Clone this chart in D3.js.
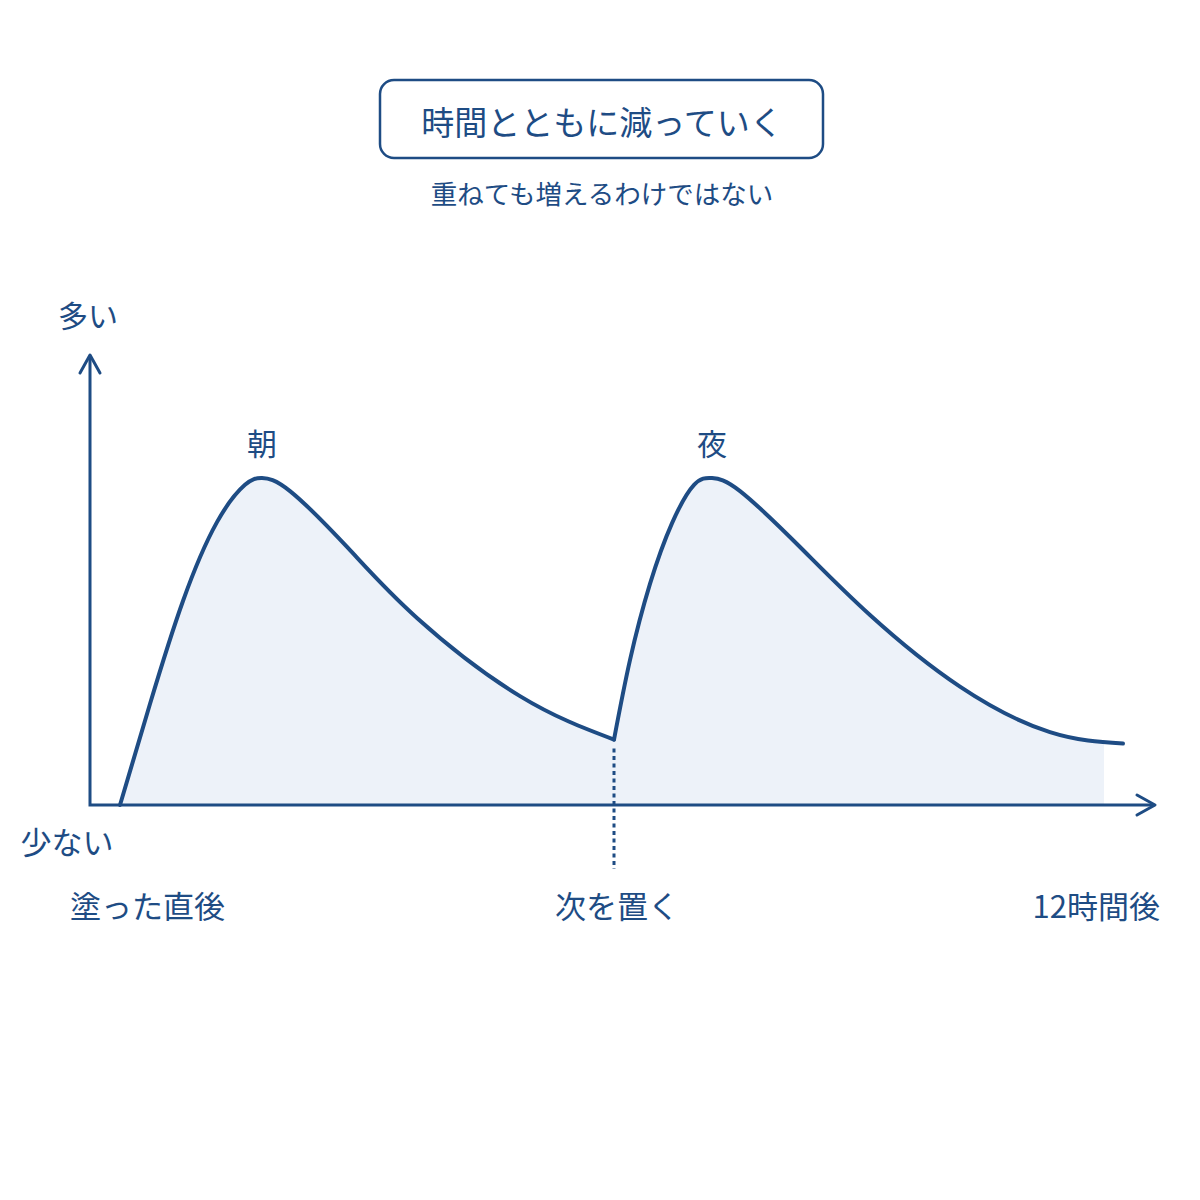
<!DOCTYPE html>
<html lang="ja">
<head>
<meta charset="utf-8">
<script src="https://cdn.jsdelivr.net/npm/d3@7"></script>
<style>
  body { margin: 0; background: #fff; }
  svg { display: block; font-family: "Noto Sans CJK JP", sans-serif; }
</style>
</head>
<body>
<svg></svg>
<script>
// Defining variables
const width = 1200
const height = 1200
const ink = '#1e4c84'
const fillColor = '#edf2f9'

// 朝に塗った分
const morningX = [0, 0.364, 0.765, 1.178, 1.518, 1.725, 2.065, 2.769, 3.607, 4.858, 6]
const morningY = [0, 30.9, 62.4, 86.5, 97.9, 100, 96.0, 78.6, 57.2, 33.3, 20]
// 夜に塗った分
const nightX = [6, 6.194, 6.437, 6.705, 6.972, 7.191, 7.531, 8.259, 9.109, 10.202, 11.295, 12.182]
const nightY = [20, 44.3, 67.6, 86.2, 97.9, 100, 96.0, 78.9, 58.1, 36.2, 22.3, 18.8]

const peakLabels = ['朝', '夜']
const peakX = [1.725, 7.191]
const xTicks = [0, 6, 12]
const xTickLabels = ['塗った直後', '次を置く', '12時間後']
const yLabels = ['多い', '少ない']
const title = '時間とともに減っていく'
const subtitle = '重ねても増えるわけではない'

// axis frame
const axisX = 90
const axisY = 805
const axisTop = 355
const axisRight = 1155

const svg = d3.select('svg')
                .attr('width', width)
                .attr('height', height)

const xScale = d3.scaleLinear()
                .domain([0, 12])
                .range([120, 1108])

const yScale = d3.scaleLinear()
                .domain([0, 100])
                .range([axisY, 478])

const segments = [
    d3.zip(morningX, morningY),
    d3.zip(nightX, nightY)
]

// Title box
svg.append('rect')
    .attr('x', 380)
    .attr('y', 80)
    .attr('width', 443)
    .attr('height', 78)
    .attr('rx', 14)
    .attr('fill', '#fff')
    .attr('stroke', ink)
    .attr('stroke-width', 2.5)

svg.append('text')
    .attr('x', 602)
    .attr('y', 121)
    .attr('text-anchor', 'middle')
    .attr('dominant-baseline', 'central')
    .attr('font-size', 33)
    .attr('fill', ink)
    .text(title)

svg.append('text')
    .attr('x', 602)
    .attr('y', 192)
    .attr('text-anchor', 'middle')
    .attr('dominant-baseline', 'central')
    .attr('font-size', 26.5)
    .attr('fill', ink)
    .text(subtitle)

// Area under the curve
svg.append('clipPath')
    .attr('id', 'clip')
    .append('rect')
    .attr('x', xScale(0))
    .attr('y', 0)
    .attr('width', xScale(12) - xScale(0) - 4)
    .attr('height', axisY)

let area = d3.area()
            .x(d => xScale(d[0]))
            .y0(yScale(0))
            .y1(d => yScale(d[1]))
            .curve(d3.curveNatural)

let line = d3.line()
            .x(d => xScale(d[0]))
            .y(d => yScale(d[1]))
            .curve(d3.curveNatural)

svg.append('g')
    .attr('clip-path', 'url(#clip)')
    .selectAll('path')
    .data(segments)
    .enter()
    .append('path')
    .attr('d', area)
    .attr('fill', fillColor)

// Dotted marker for the second coat
svg.append('line')
    .attr('x1', xScale(xTicks[1]))
    .attr('x2', xScale(xTicks[1]))
    .attr('y1', yScale(nightY[0]) + 9)
    .attr('y2', 869)
    .attr('stroke', ink)
    .attr('stroke-width', 3)
    .attr('stroke-dasharray', '4,3.5')

// Axes with arrow heads
svg.append('path')
    .attr('d', `M${axisX},${axisTop + 2}V${axisY}H${axisRight - 2}`)
    .attr('fill', 'none')
    .attr('stroke', ink)
    .attr('stroke-width', 3)

svg.append('path')
    .attr('d', `M${axisX - 10},${axisTop + 18}L${axisX},${axisTop}L${axisX + 10},${axisTop + 18}`)
    .attr('fill', 'none')
    .attr('stroke', ink)
    .attr('stroke-width', 3)
    .attr('stroke-linecap', 'round')
    .attr('stroke-linejoin', 'round')

svg.append('path')
    .attr('d', `M${axisRight - 18},${axisY - 10}L${axisRight},${axisY}L${axisRight - 18},${axisY + 10}`)
    .attr('fill', 'none')
    .attr('stroke', ink)
    .attr('stroke-width', 3)
    .attr('stroke-linecap', 'round')
    .attr('stroke-linejoin', 'round')

// Curve
svg.append('g')
    .selectAll('path')
    .data(segments)
    .enter()
    .append('path')
    .attr('d', line)
    .attr('fill', 'none')
    .attr('stroke', ink)
    .attr('stroke-width', 4)
    .attr('stroke-linecap', 'round')
    .attr('stroke-linejoin', 'round')

// Peak labels
svg.selectAll('.peak')
    .data(peakLabels)
    .enter()
    .append('text')
    .attr('class', 'peak')
    .attr('x', (d, i) => xScale(peakX[i]))
    .attr('y', yScale(100) - 36)
    .attr('text-anchor', 'middle')
    .attr('dominant-baseline', 'central')
    .attr('font-size', 30)
    .attr('fill', ink)
    .text(d => d)

// y labels
svg.append('text')
    .attr('x', 88)
    .attr('y', 314)
    .attr('text-anchor', 'middle')
    .attr('dominant-baseline', 'central')
    .attr('font-size', 30)
    .attr('fill', ink)
    .text(yLabels[0])

svg.append('text')
    .attr('x', 67)
    .attr('y', 840)
    .attr('text-anchor', 'middle')
    .attr('dominant-baseline', 'central')
    .attr('font-size', 31)
    .attr('fill', ink)
    .text(yLabels[1])

// x labels
const anchors = ['start', 'middle', 'end']
const shifts = [-50, 3, 52]
svg.selectAll('.xlabel')
    .data(xTickLabels)
    .enter()
    .append('text')
    .attr('class', 'xlabel')
    .attr('x', (d, i) => xScale(xTicks[i]) + shifts[i])
    .attr('y', 904)
    .attr('text-anchor', (d, i) => anchors[i])
    .attr('dominant-baseline', 'central')
    .attr('font-size', 31)
    .attr('fill', ink)
    .text(d => d)
</script>
</body>
</html>
